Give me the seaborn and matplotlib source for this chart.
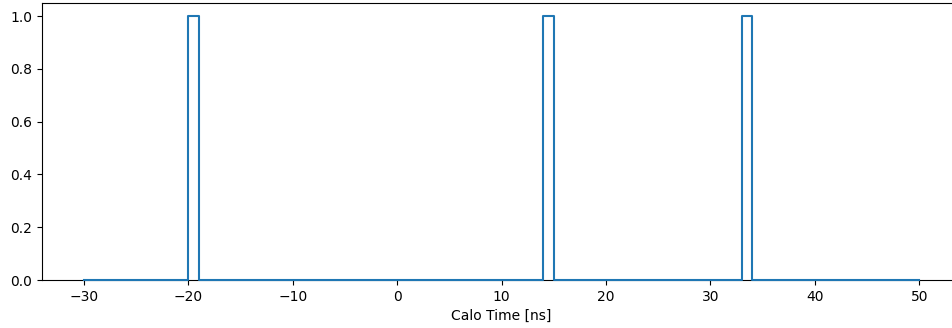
import numpy as np
import pandas as pd
import matplotlib
matplotlib.use("Agg")
import matplotlib.pyplot as plt
import seaborn as sns

# Data: calorimeter hit times (ns), one hit per bin
calo_times = [-19.5, 14.5, 33.5]
bin_edges = list(range(-30, 51, 1))
x_ticks = [-30, -20, -10, 0, 10, 20, 30, 40, 50]
y_ticks = [0.0, 0.2, 0.4, 0.6, 0.8, 1.0]

df = pd.DataFrame({"Calo Time [ns]": calo_times})

fig = plt.figure(figsize=(9.53, 3.28), dpi=100)
ax = fig.add_axes([0.0441, 0.1463, 0.9643, 0.8446])

sns.histplot(data=df, x="Calo Time [ns]", bins=bin_edges, element="step",
             fill=False, color="#1f77b4", linewidth=1.5, ax=ax)

for ln in ax.lines:
    ln.set_zorder(3)
    ln.set_clip_on(False)

ax.set_xlim(-34, 54)
ax.set_ylim(0, 1.05)
ax.set_xticks(x_ticks)
ax.set_yticks(y_ticks)
ax.set_xlabel("Calo Time [ns]")
ax.set_ylabel("")

fig.savefig("out.png", dpi=100)
